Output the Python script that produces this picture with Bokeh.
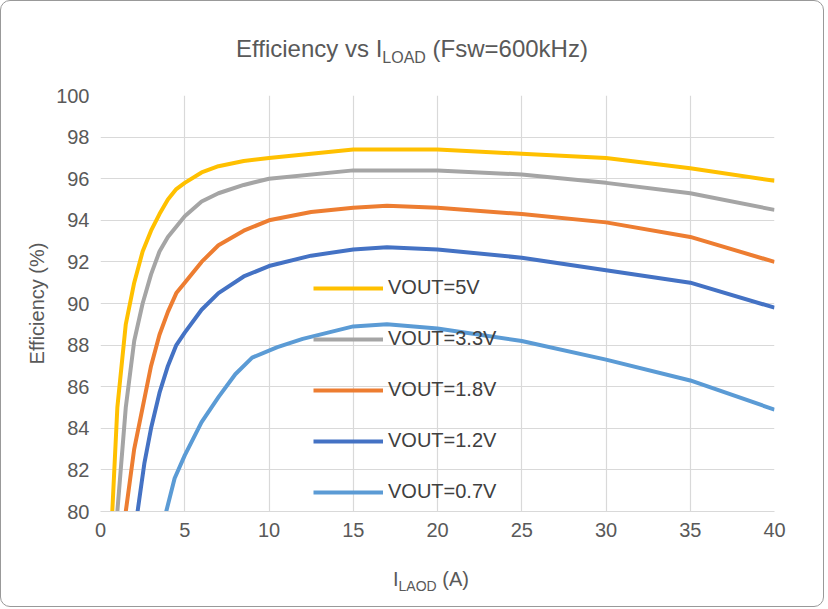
from bokeh.plotting import figure
from bokeh.models import Range1d, Legend, LegendItem, Div
from bokeh.layouts import column
from bokeh.embed import file_html
from bokeh.resources import INLINE

series_names = ["VOUT=5V", "VOUT=3.3V", "VOUT=1.8V", "VOUT=1.2V", "VOUT=0.7V"]
colors = ["#FFC000", "#A5A5A5", "#ED7D31", "#4472C4", "#5B9BD5"]
x5 = [0.7, 1.0, 1.5, 2, 2.5, 3, 3.5, 4, 4.5, 5, 6, 7, 8.5, 10, 15, 20, 25, 30, 35, 40]
y5 = [80, 85, 89, 91, 92.5, 93.5, 94.3, 95.0, 95.5, 95.8, 96.3, 96.6, 96.85, 97.0, 97.4, 97.4, 97.2, 97.0, 96.5, 95.9]
x33 = [1.0, 1.5, 2, 2.5, 3, 3.5, 4, 5, 6, 7, 8.5, 10, 15, 20, 25, 30, 35, 40]
y33 = [80, 85, 88.2, 90, 91.4, 92.5, 93.2, 94.2, 94.9, 95.3, 95.7, 96.0, 96.4, 96.4, 96.2, 95.8, 95.3, 94.5]
x18 = [1.5, 2, 2.5, 3, 3.5, 4, 4.5, 5, 6, 7, 8.5, 10, 12.5, 15, 17, 20, 25, 30, 35, 40]
y18 = [80, 83, 85, 87, 88.5, 89.6, 90.5, 91.0, 92.0, 92.8, 93.5, 94.0, 94.4, 94.6, 94.7, 94.6, 94.3, 93.9, 93.2, 92.0]
x12 = [2.2, 2.6, 3, 3.5, 4, 4.5, 5, 6, 7, 8.5, 10, 12.5, 15, 17, 20, 25, 30, 35, 40]
y12 = [80, 82.3, 84, 85.7, 87, 88.0, 88.6, 89.7, 90.5, 91.3, 91.8, 92.3, 92.6, 92.7, 92.6, 92.2, 91.6, 91.0, 89.8]
x07 = [3.9, 4.4, 5, 6, 7, 8, 9, 10.5, 12, 15, 17, 20, 25, 30, 35, 40]
y07 = [80, 81.6, 82.7, 84.3, 85.5, 86.6, 87.4, 87.9, 88.3, 88.9, 89.0, 88.8, 88.2, 87.3, 86.3, 84.9]
xticks = [0, 5, 10, 15, 20, 25, 30, 35, 40]
yticks = [80, 82, 84, 86, 88, 90, 92, 94, 96, 98, 100]

font = "font-family:'Liberation Sans';color:#595959;"
title = Div(text=f"<div style=\"{font}font-size:24px;text-align:center;width:812px\">Efficiency vs I<sub style='font-size:16px'>LOAD</sub> (Fsw=600kHz)</div>",
            width=812, height=60, styles={"padding-top": "26px"})

p = figure(width=812, height=475, output_backend="svg", toolbar_location=None,
           x_range=Range1d(0, 40), y_range=Range1d(80, 100),
           min_border_left=99, min_border_right=39, min_border_top=24, min_border_bottom=35)
p.outline_line_color = None
p.xaxis.ticker = xticks
p.yaxis.ticker = yticks
for ax in (p.xaxis, p.yaxis):
    ax.axis_line_color = None
    ax.major_tick_line_color = None
    ax.minor_tick_line_color = None
    ax.major_label_text_font = "Liberation Sans"
    ax.major_label_text_font_size = "20px"
    ax.major_label_text_color = "#595959"
p.xaxis.axis_line_color = "#D9D9D9"
p.grid.grid_line_color = "#D9D9D9"
p.grid.grid_line_width = 1.2
p.yaxis.axis_label = "Efficiency (%)"
p.yaxis.axis_label_text_font = "Liberation Sans"
p.yaxis.axis_label_text_font_style = "normal"
p.yaxis.axis_label_text_font_size = "20px"
p.yaxis.axis_label_text_color = "#595959"

items = []
for name, c, xs, ys in zip(series_names, colors, [x5, x33, x18, x12, x07], [y5, y33, y18, y12, y07]):
    r = p.line(xs, ys, line_color=c, line_width=4, line_join="round")
    items.append(LegendItem(label=name, renderers=[r]))
leg = Legend(items=items, location=(213, 8), glyph_width=70, glyph_height=20, label_height=20,
             spacing=28, padding=0, margin=0, border_line_color=None, background_fill_alpha=0,
             label_text_font="Liberation Sans", label_text_font_size="20px", label_text_color="#404040")
p.add_layout(leg, "center")

xlabel = Div(text=f"<div style=\"{font}font-size:20px;padding-left:387px\">I<sub style='font-size:14px'>LAOD</sub> (A)</div>",
             width=812, height=50, styles={"padding-top": "14px"})

layout = column(title, p, xlabel, spacing=0,
                styles={"border": "1px solid #999", "border-radius": "10px"})
open("out.html", "w").write(file_html(layout, INLINE))
